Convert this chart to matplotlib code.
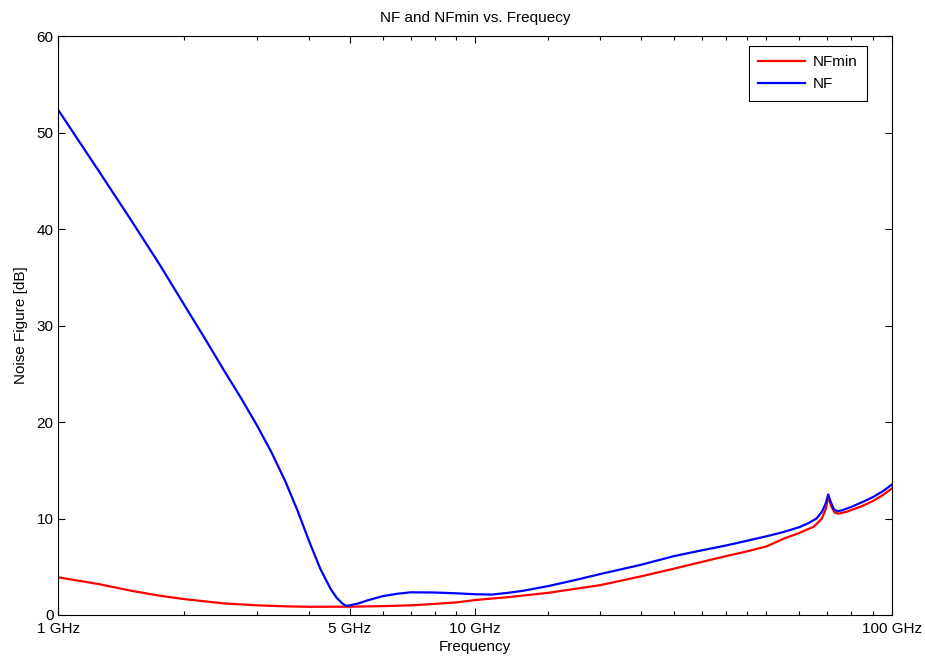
import matplotlib
matplotlib.use("Agg")
import matplotlib.pyplot as plt
import numpy as np
from matplotlib.ticker import FixedLocator, NullFormatter

# frequency points [GHz]
freq_nf = [1.0, 1.25, 1.5, 1.75, 2.0, 2.25, 2.5, 2.75, 3.0, 3.25, 3.5, 3.75, 4.0, 4.25,
           4.5, 4.65, 4.8, 4.9, 5.0, 5.25, 5.5, 6.0, 6.5, 7.0, 8.0, 9.0, 10.0, 11.0, 12.0,
           13.0, 15.0, 17.5, 20.0, 25.0, 30.0, 35.0, 40.0, 45.0, 50.0, 55.0, 60.0,
           63.0, 66.0, 68.0, 69.5, 70.4, 71.3, 72.5, 74.0, 76.0, 80.0, 85.0, 90.0,
           95.0, 100.0]
nf = [52.3, 46.0, 40.8, 36.3, 32.2, 28.6, 25.3, 22.4, 19.6, 16.8, 13.9, 10.8, 7.6, 4.8,
      2.7, 1.8, 1.2, 0.95, 1.0, 1.2, 1.5, 1.95, 2.2, 2.35, 2.33, 2.25, 2.15, 2.12, 2.3,
      2.5, 3.0, 3.65, 4.25, 5.2, 6.1, 6.7, 7.2, 7.7, 8.15, 8.6, 9.1,
      9.5, 10.0, 10.7, 11.6, 12.5, 11.8, 11.0, 10.75, 10.85, 11.2, 11.7, 12.2,
      12.8, 13.5]

freq_nfmin = [1.0, 1.25, 1.5, 1.75, 2.0, 2.5, 3.0, 3.5, 4.0, 5.0, 6.0, 7.0, 8.0, 9.0,
              10.0, 12.0, 15.0, 20.0, 25.0, 30.0, 35.0, 40.0, 45.0, 50.0, 55.0, 60.0,
              65.0, 68.0, 69.5, 70.4, 71.5, 73.0, 74.5, 78.0, 85.0, 90.0, 95.0, 100.0]
nfmin = [3.9, 3.2, 2.5, 2.0, 1.65, 1.2, 1.0, 0.9, 0.85, 0.86, 0.92, 1.0, 1.15, 1.3,
         1.55, 1.85, 2.3, 3.1, 4.0, 4.8, 5.5, 6.1, 6.6, 7.1, 7.9, 8.5,
         9.15, 10.0, 11.0, 12.3, 11.3, 10.6, 10.5, 10.7, 11.3, 11.8, 12.4, 13.1]

major_ticks = [1, 5, 10, 100]
major_labels = ["1 GHz", "5 GHz", "10 GHz", "100 GHz"]
minor_ticks = [2, 3, 4, 6, 7, 8, 9, 15, 20, 25, 30, 35, 40, 45, 50, 60, 70, 80, 90]

plt.rcParams['font.family'] = ['Liberation Sans', 'DejaVu Sans']
plt.rcParams['font.size'] = 11

fig = plt.figure(figsize=(9.25, 6.56), dpi=100)
ax = fig.add_axes([0.0632, 0.0625, 0.9008, 0.8826])

ax.plot(freq_nfmin, nfmin, color="#ff0000", lw=1.6, label="NFmin")
ax.plot(freq_nf, nf, color="#0000ff", lw=1.6, label="NF")

ax.set_xscale("log")
ax.set_xlim(1, 100)
ax.set_ylim(0, 60)
ax.xaxis.set_major_locator(FixedLocator(major_ticks))
ax.set_xticklabels(major_labels)
ax.xaxis.set_minor_locator(FixedLocator(minor_ticks))
ax.xaxis.set_minor_formatter(NullFormatter())
ax.set_yticks(np.arange(0, 61, 10))

ax.tick_params(which="both", direction="in", top=True, right=True, labelsize=11)
ax.tick_params(which="major", length=5, width=0.8)
ax.tick_params(which="minor", length=3, width=0.8)
ax.tick_params(axis="x", pad=5)
for s in ax.spines.values():
    s.set_linewidth(0.8)

ax.set_title("NF and NFmin vs. Frequecy", fontsize=11, pad=10)
ax.set_xlabel("Frequency", fontsize=11, labelpad=3)
ax.set_ylabel("Noise Figure [dB]", fontsize=11, labelpad=6)

leg = ax.legend(loc="upper right", bbox_to_anchor=(0.970, 0.983), borderaxespad=0,
                fancybox=False, edgecolor="black", framealpha=1, handlelength=3.1,
                handletextpad=0.5, borderpad=0.6, labelspacing=0.55, fontsize=11)
leg.get_frame().set_linewidth(0.8)

fig.savefig("out.png", dpi=100)
